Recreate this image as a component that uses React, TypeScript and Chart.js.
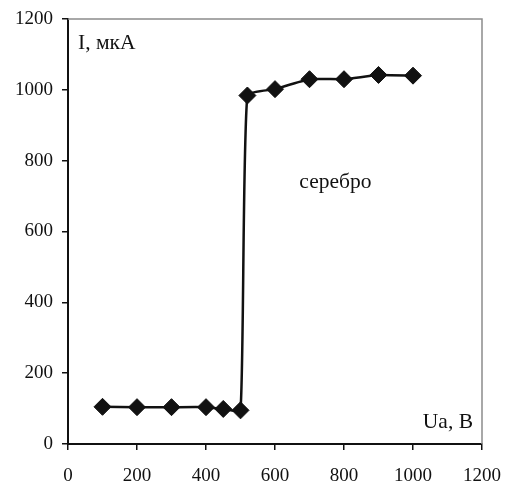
import React, { useEffect, useRef } from "react";
import { Chart, registerables } from "chart.js";

Chart.register(...registerables);

const voltage = [100, 200, 300, 400, 450, 500, 520, 600, 700, 800, 900, 1000];
const current = [105, 104, 104, 104, 99, 95, 984, 1002, 1030, 1030, 1042, 1040];
const xTicks = [0, 200, 400, 600, 800, 1000, 1200];
const yTicks = [0, 200, 400, 600, 800, 1000, 1200];
const yLabel = "I, мкА";
const xLabel = "Ua, B";
const seriesName = "серебро";

const FONT = "'Liberation Serif', 'DejaVu Serif', serif";

export default function App() {
  const ref = useRef<HTMLCanvasElement | null>(null);

  useEffect(() => {
    if (!ref.current) return;
    const framePlugin = {
      id: "frameAndLabels",
      afterDraw(chart: any) {
        const { ctx, chartArea, scales } = chart;
        ctx.save();
        ctx.strokeStyle = "#8c8c8c";
        ctx.lineWidth = 1.5;
        ctx.beginPath();
        ctx.moveTo(chartArea.left, chartArea.top);
        ctx.lineTo(chartArea.right, chartArea.top);
        ctx.lineTo(chartArea.right, chartArea.bottom);
        ctx.stroke();
        ctx.fillStyle = "#111";
        ctx.font = `21.5px ${FONT}`;
        ctx.textBaseline = "middle";
        ctx.textAlign = "left";
        ctx.fillText(yLabel, chartArea.left + 10, scales.y.getPixelForValue(1130));
        ctx.textAlign = "right";
        ctx.fillText(xLabel, chartArea.right - 9, scales.y.getPixelForValue(60));
        ctx.textAlign = "center";
        ctx.fillText(seriesName, scales.x.getPixelForValue(775), scales.y.getPixelForValue(740));
        ctx.restore();
      },
    };

    const chart = new Chart(ref.current, {
      type: "line",
      data: {
        datasets: [
          {
            label: seriesName,
            data: voltage.map((v, i) => ({ x: v, y: current[i] })),
            borderColor: "#111",
            borderWidth: 2.5,
            backgroundColor: "#111",
            pointStyle: "rectRot",
            pointRadius: 8.5,
            pointBorderWidth: 1,
            pointBorderColor: "#111",
            pointBackgroundColor: "#111",
            tension: 0.15,
            fill: false,
          },
        ],
      },
      options: {
        responsive: false,
        animation: false,
        layout: { padding: { left: 0, top: 19, right: 23, bottom: 0 } },
        plugins: {
          legend: { display: false },
          tooltip: { enabled: false },
        },
        scales: {
          x: {
            type: "linear",
            min: 0,
            max: 1200,
            afterBuildTicks: (s: any) => {
              s.ticks = xTicks.map((v) => ({ value: v }));
            },
            afterFit: (s: any) => {
              s.height = 44;
              s.paddingLeft = 0;
              s.paddingRight = 0;
            },
            grid: { drawOnChartArea: false, drawTicks: true, tickLength: 6, color: "#111", lineWidth: 1.5 },
            border: { display: true, color: "#111", width: 2 },
            ticks: {
              color: "#111",
              font: { family: FONT, size: 19 },
              padding: 15,
              maxRotation: 0,
              callback: (v: any) => String(v),
            },
          },
          y: {
            type: "linear",
            min: 0,
            max: 1200,
            afterBuildTicks: (s: any) => {
              s.ticks = yTicks.map((v) => ({ value: v }));
            },
            afterFit: (s: any) => {
              s.width = 68;
              s.paddingTop = 0;
              s.paddingBottom = 0;
            },
            grid: { drawOnChartArea: false, drawTicks: true, tickLength: 6, color: "#111", lineWidth: 1.5 },
            border: { display: true, color: "#111", width: 2 },
            ticks: {
              color: "#111",
              font: { family: FONT, size: 19 },
              padding: 9,
              callback: (v: any) => String(v),
            },
          },
        },
      },
      plugins: [framePlugin],
    });
    return () => chart.destroy();
  }, []);

  return (
    <div style={{ position: "fixed", left: 0, top: 0, width: 505, height: 488, background: "#fff" }}>
      <canvas ref={ref} width={505} height={488} />
    </div>
  );
}
